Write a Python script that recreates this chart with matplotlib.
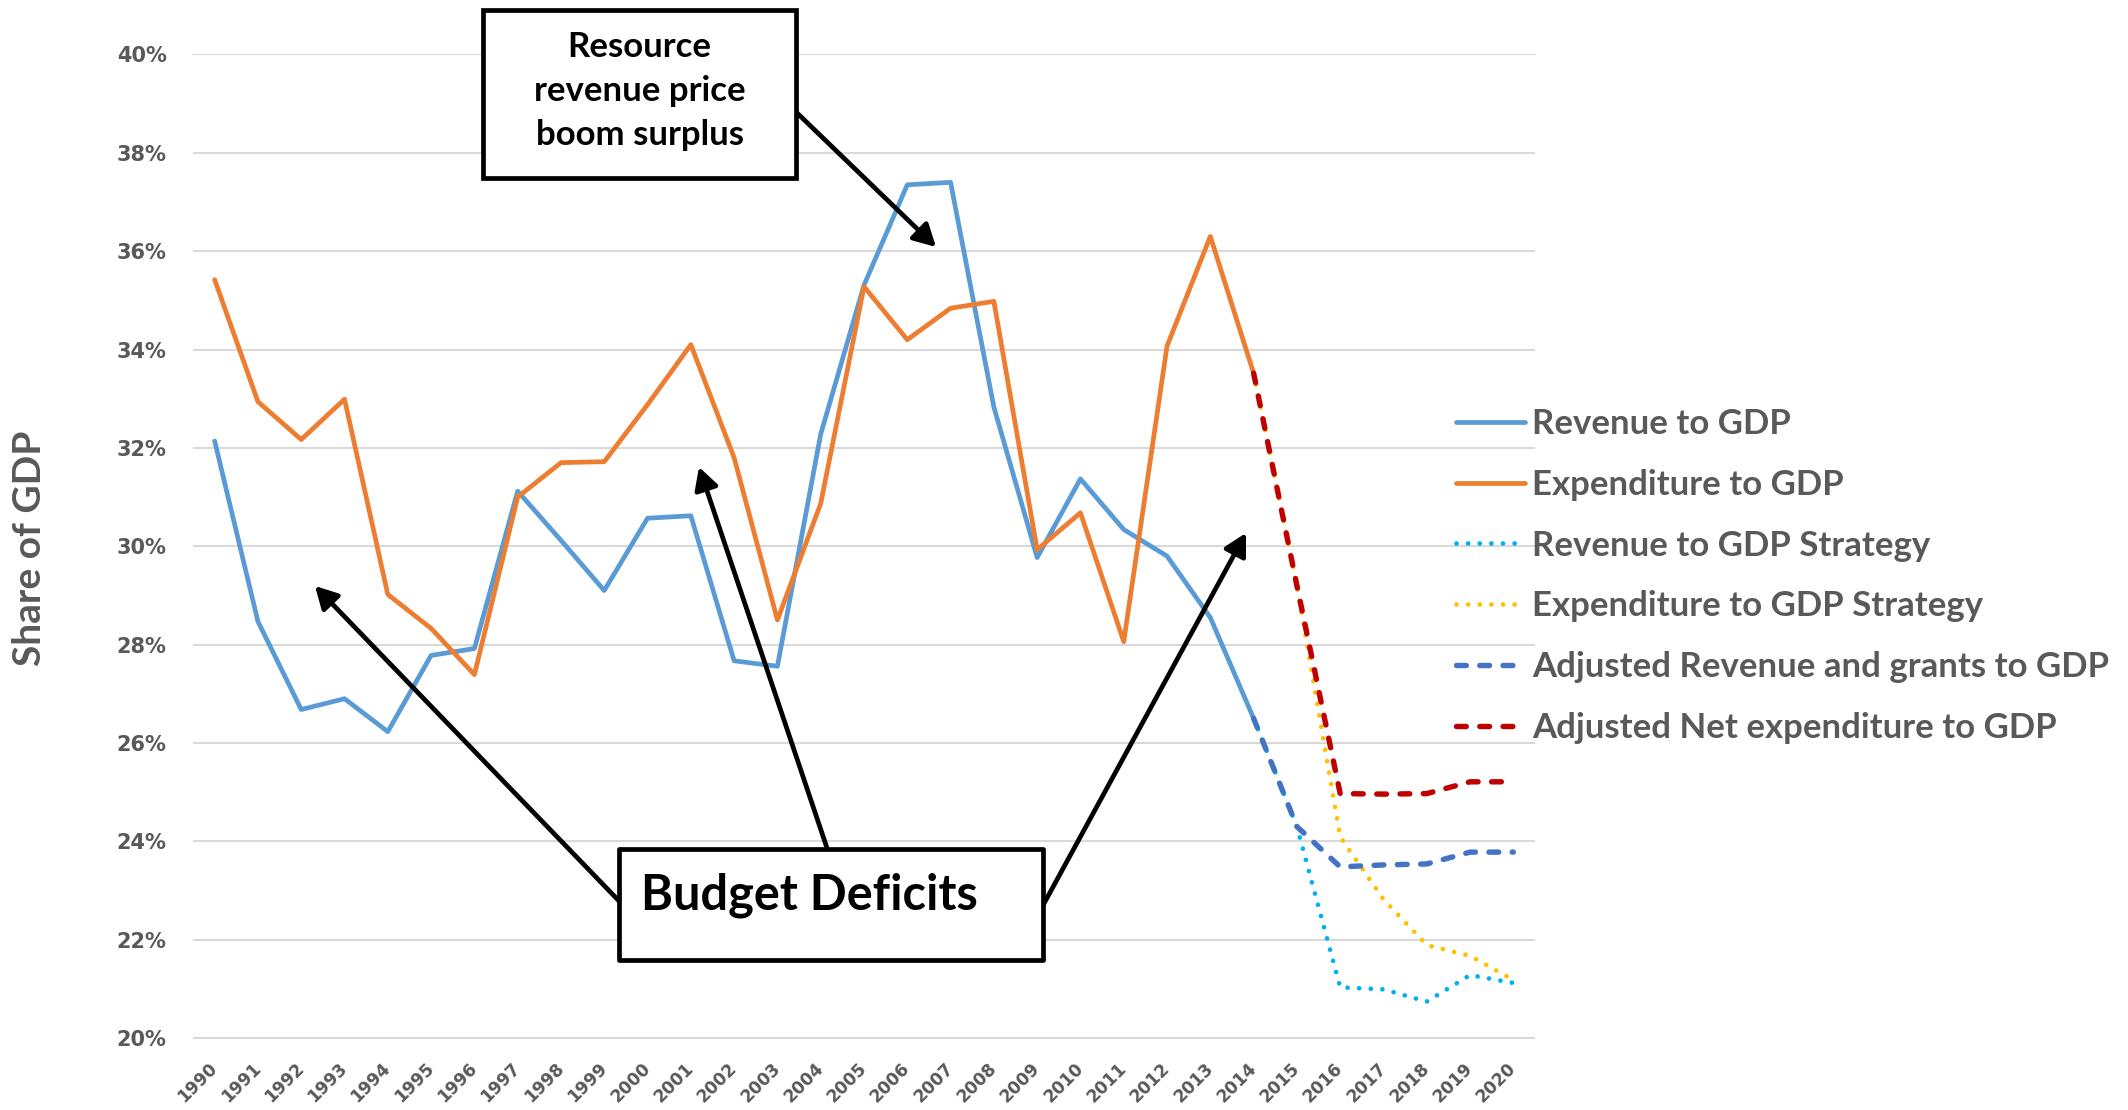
import numpy as np
import matplotlib
matplotlib.use("Agg")
import matplotlib.pyplot as plt
from matplotlib.patches import Rectangle, FancyArrowPatch, ArrowStyle
from matplotlib.font_manager import FontProperties
from matplotlib.transforms import ScaledTranslation

# ---------------- data ----------------
years = list(range(1990, 2021))
nan = np.nan
revenue = [32.14, 28.47, 26.68, 26.90, 26.23, 27.78, 27.92, 31.12, 30.12, 29.10,
           30.57, 30.62, 27.67, 27.56, 32.28, 35.31, 37.35, 37.40, 32.83, 29.77,
           31.37, 30.34, 29.80, 28.55, 26.50] + [nan] * 6
expenditure = [35.42, 32.94, 32.17, 32.99, 29.02, 28.33, 27.39, 31.00, 31.70, 31.72,
               32.88, 34.10, 31.80, 28.50, 30.87, 35.28, 34.20, 34.84, 34.98, 29.93,
               30.68, 28.06, 34.07, 36.30, 33.52] + [nan] * 6
revenue_strategy = [nan] * 24 + [26.50, 24.30, 21.03, 20.99, 20.74, 21.28, 21.12]
expenditure_strategy = [nan] * 24 + [33.52, 29.20, 24.09, 22.82, 21.89, 21.67, 21.18]
adj_revenue = [nan] * 24 + [26.50, 24.30, 23.48, 23.52, 23.54, 23.78, 23.78]
adj_net_exp = [nan] * 24 + [33.52, 29.20, 24.97, 24.96, 24.97, 25.21, 25.21]

labels = ["Revenue to GDP", "Expenditure to GDP", "Revenue to GDP Strategy",
          "Expenditure to GDP Strategy", "Adjusted Revenue and grants to GDP",
          "Adjusted Net expenditure to GDP"]
yticks = list(range(20, 41, 2))

# ---------------- figure ----------------
W, H = 2128, 1110
fig = plt.figure(figsize=(W / 100, H / 100), dpi=100)
fig.patch.set_facecolor("white")

def fx(px):
    return px / W

def fy(py):
    return 1 - py / H

ax = fig.add_axes([fx(193), fy(1039), fx(1535) - fx(193), fy(53.5) - fy(1039)])

GRAY = "#595959"
FONT = "Lato"

solid_lw = 3.4
dot_lw = 3.4
dash_lw = 3.9
dots = (0, (0.01, 2.45))
dashes = (0, (1.8, 2.5))

ax.plot(years, revenue, color="#5B9BD5", lw=solid_lw, solid_capstyle="round",
        solid_joinstyle="round", label=labels[0])
ax.plot(years, expenditure, color="#ED7D31", lw=solid_lw, solid_capstyle="round",
        solid_joinstyle="round", label=labels[1])
ax.plot(years, revenue_strategy, color="#00B0F0", lw=dot_lw, linestyle=dots,
        dash_capstyle="round", label=labels[2])
ax.plot(years, expenditure_strategy, color="#FFC000", lw=dot_lw, linestyle=dots,
        dash_capstyle="round", label=labels[3])
ax.plot(years, adj_revenue, color="#4472C4", lw=dash_lw, linestyle=dashes,
        dash_capstyle="round", dash_joinstyle="round", label=labels[4])
ax.plot(years, adj_net_exp, color="#C00000", lw=dash_lw, linestyle=dashes,
        dash_capstyle="round", dash_joinstyle="round", label=labels[5])

ax.set_xlim(1989.5, 2020.5)
ax.set_ylim(19.98, 40.02)
ax.set_yticks(yticks)
ax.set_yticklabels([f"{v}%" for v in yticks], fontfamily="DejaVu Sans",
                   fontweight="bold", fontsize=15, color=GRAY)
ax.set_xticks(years)
ax.set_xticklabels([str(y) for y in years], rotation=45, ha="right",
                   fontfamily="DejaVu Sans", fontweight="bold", fontsize=12.3,
                   color=GRAY)
ax.tick_params(axis="y", length=0, pad=19)
ax.tick_params(axis="x", length=0, pad=14.3)
shift = ScaledTranslation(6.4 / 100, 0, fig.dpi_scale_trans)
for lab in ax.get_xticklabels():
    lab.set_transform(lab.get_transform() + shift)
for s in ax.spines.values():
    s.set_visible(False)
ax.yaxis.grid(True, color="#D9D9D9", lw=1.5)
ax.set_axisbelow(True)

fig.text(fx(30), fy(548), "Share of GDP", rotation=90, ha="center", va="center",
         fontfamily=FONT, fontweight="bold", fontsize=28, color=GRAY)

leg = ax.legend(loc="center left", bbox_to_anchor=(fx(1456), fy(576)),
                bbox_transform=fig.transFigure, frameon=False, borderpad=0,
                borderaxespad=0, handlelength=2.0, handletextpad=0.2,
                labelspacing=0.83,
                prop=FontProperties(family=FONT, weight="bold", size=25))
for t in leg.get_texts():
    t.set_color(GRAY)

# ---------------- annotations ----------------
box_lw = 3.4
r1 = Rectangle((fx(483), fy(178)), fx(796) - fx(483), fy(10) - fy(178),
               transform=fig.transFigure, facecolor="white", edgecolor="black",
               lw=box_lw, joinstyle="miter", zorder=5)
fig.add_artist(r1)
fig.text(fx(639.5), fy(91), "Resource\nrevenue price\nboom surplus", ha="center",
         va="center", multialignment="center", linespacing=1.47, fontfamily=FONT,
         fontweight="bold", fontsize=25, color="black", zorder=6)

r2 = Rectangle((fx(619), fy(960)), fx(1043) - fx(619), fy(849) - fy(960),
               transform=fig.transFigure, facecolor="white", edgecolor="black",
               lw=box_lw, joinstyle="round", zorder=5)
fig.add_artist(r2)
fig.text(fx(641), fy(910), "Budget Deficits", ha="left", va="baseline",
         fontfamily=FONT, fontweight="bold", fontsize=35, color="black", zorder=6)

arrows = [((795, 111), (936, 247)),
          ((620, 902), (315, 586)),
          ((828, 851), (699, 467)),
          ((1041, 909), (1246, 533))]
style = ArrowStyle("-|>", head_length=1.1, head_width=0.6)
for (x0, y0), (x1, y1) in arrows:
    a = FancyArrowPatch((fx(x0), fy(y0)), (fx(x1), fy(y1)),
                        transform=fig.transFigure, arrowstyle=style,
                        mutation_scale=12, lw=3.4, color="black",
                        shrinkA=0, shrinkB=0, zorder=4)
    fig.add_artist(a)

fig.savefig("out.png", dpi=100, facecolor="white")
